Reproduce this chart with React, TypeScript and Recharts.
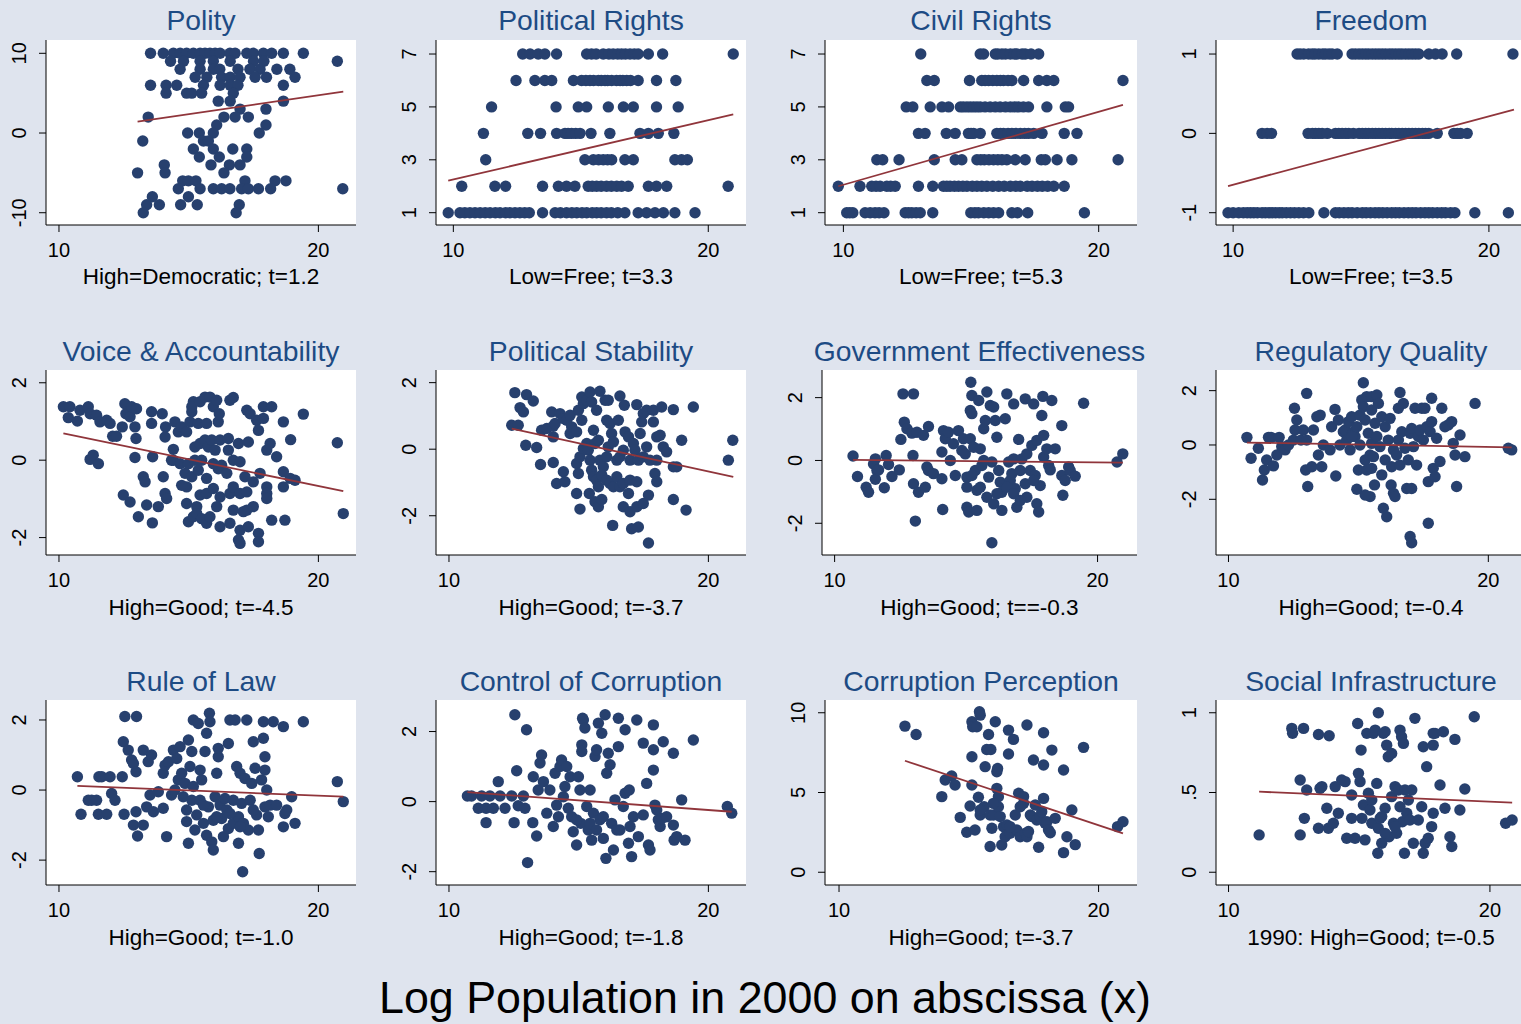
import React from 'react';
import { ScatterChart, Scatter, XAxis, YAxis } from 'recharts';

const FONT = '"Liberation Sans", Arial, Helvetica, sans-serif';
const BG = '#dfe4ee';
const DOT = '#27406e';
const FIT = '#90353b';
const TITLE = '#1d4b84';

type Pt = [number, number];
type Row = [number, number[]];

// ---------- data (x = log population in 2000, y = index value) ----------
const polityRows: Row[] = [
  [10, [13.53, 14.02, 14.41, 14.67, 14.92, 15.18, 15.44, 15.63, 15.82, 16.02, 16.21, 16.59, 16.79, 17.24, 17.49, 17.88, 18.2, 18.65, 19.42]],
  [9, [14.3, 14.8, 15.44, 15.95, 16.6, 17.5, 17.9, 20.73]],
  [8, [14.67, 15.44, 15.95, 16.2, 16.9, 17.36, 17.75, 18.4, 18.9]],
  [7, [15.25, 15.7, 16.27, 16.6, 16.98, 17.56, 18.0, 19.1]],
  [6, [13.53, 14.13, 14.54, 15.57, 16.21, 16.6, 16.9, 18.65]],
  [5, [14.13, 14.92, 15.12, 15.5, 16.72]],
  [4, [16.14, 16.6, 18.65]],
  [3, [16.98, 17.98]],
  [2, [13.44, 16.36, 16.79, 17.3]],
  [1, [16.08, 17.98]],
  [0, [14.96, 15.41, 15.95, 17.72]],
  [-1, [13.23, 15.57, 15.76]],
  [-2, [15.18, 15.95, 16.7, 17.24]],
  [-3, [15.41, 16.18, 17.24]],
  [-4, [14.06, 15.86, 16.57, 16.98]],
  [-5, [13.03, 14.09, 16.36]],
  [-6, [14.77, 14.99, 15.28, 17.17, 18.33, 18.75]],
  [-7, [14.6, 15.44, 15.95, 16.27, 16.59, 17.04, 17.3, 17.69, 18.16, 20.94]],
  [-8, [13.6, 14.99]],
  [-9, [13.38, 13.87, 14.69, 15.33, 16.95]],
  [-10, [13.25, 16.83]],
];

const polRightsRows: Row[] = [
  [7, [12.72, 13.01, 13.33, 13.59, 14.05, 15.23, 15.42, 15.6, 15.88, 16.1, 16.27, 16.45, 16.6, 16.75, 16.93, 17.1, 17.25, 17.65, 18.21, 20.98]],
  [6, [12.46, 13.2, 13.59, 13.86, 14.71, 15.03, 15.2, 15.36, 15.5, 15.69, 15.8, 15.95, 16.05, 16.21, 16.4, 16.54, 16.65, 16.8, 16.95, 17.25, 17.97, 18.73]],
  [5, [11.5, 14.03, 14.9, 15.23, 16.08, 16.67, 17.06, 17.97, 18.82]],
  [4, [11.18, 12.92, 13.42, 14.05, 14.38, 14.5, 14.64, 14.8, 14.97, 15.4, 16.14, 17.32, 17.65, 18.04, 18.65]],
  [3, [11.27, 15.16, 15.49, 15.7, 15.88, 16.05, 16.21, 16.73, 17.06, 18.69, 18.95, 19.18]],
  [2, [10.33, 11.63, 12.05, 13.5, 14.12, 14.44, 14.77, 15.29, 15.45, 15.62, 15.8, 16.01, 16.2, 16.41, 16.6, 16.86, 17.65, 17.97, 18.37, 20.78]],
  [1, [9.8, 10.26, 10.45, 10.65, 10.85, 11.05, 11.25, 11.44, 11.65, 11.83, 12.05, 12.22, 12.42, 12.61, 12.8, 12.98, 13.5, 13.99, 14.2, 14.44, 14.65, 14.84, 15.05, 15.23, 15.45, 15.62, 15.8, 16.01, 16.2, 16.45, 16.73, 17.25, 17.58, 17.91, 18.24, 18.69, 19.48]],
];

const civilRightsRows: Row[] = [
  [7, [13.03, 15.36, 15.49, 15.95, 16.05, 16.21, 16.35, 16.54, 16.7, 16.8, 17.0, 17.12, 17.35, 17.65]],
  [6, [13.27, 13.56, 14.94, 15.42, 15.55, 15.69, 15.85, 16.01, 16.15, 16.27, 16.45, 16.6, 17.06, 17.65, 17.97, 18.24, 20.95]],
  [5, [12.46, 12.72, 13.4, 13.86, 14.12, 14.58, 14.7, 14.84, 14.97, 15.1, 15.23, 15.36, 15.55, 15.75, 15.95, 16.14, 16.35, 16.54, 16.7, 16.86, 17.05, 17.25, 17.97, 18.69, 18.82]],
  [4, [12.94, 13.2, 14.03, 14.38, 14.9, 15.0, 15.1, 15.36, 16.01, 16.15, 16.27, 16.45, 16.6, 16.75, 16.93, 17.1, 17.25, 17.45, 17.78, 18.65, 19.15]],
  [3, [11.31, 11.54, 12.18, 13.56, 14.38, 14.64, 15.23, 15.38, 15.52, 15.7, 15.88, 16.05, 16.21, 16.4, 16.73, 17.12, 17.75, 17.91, 18.37, 18.95, 20.76]],
  [2, [9.8, 10.65, 11.11, 11.28, 11.44, 11.7, 11.85, 12.03, 12.94, 13.5, 13.92, 14.05, 14.18, 14.35, 14.51, 14.68, 14.84, 15.05, 15.23, 15.42, 15.62, 15.85, 16.08, 16.3, 16.54, 16.75, 16.93, 17.2, 17.39, 17.6, 17.79, 18.0, 18.24, 18.65]],
  [1, [10.13, 10.25, 10.37, 10.85, 11.05, 11.24, 11.4, 11.59, 12.42, 12.55, 12.68, 12.85, 13.01, 13.5, 14.99, 15.15, 15.29, 15.5, 15.69, 15.88, 16.08, 16.6, 16.82, 17.22, 19.44]],
];

const freedomRows: Row[] = [
  [1, [12.5, 12.62, 12.76, 12.95, 13.09, 13.2, 13.35, 13.5, 13.61, 13.75, 13.87, 14.07, 14.65, 14.78, 14.92, 15.05, 15.18, 15.3, 15.44, 15.57, 15.7, 15.83, 15.96, 16.1, 16.22, 16.35, 16.48, 16.6, 16.74, 16.87, 17.0, 17.13, 17.26, 17.65, 17.91, 18.17, 18.74, 20.94]],
  [0, [11.13, 11.33, 11.5, 12.93, 13.1, 13.22, 13.35, 13.48, 13.68, 14.0, 14.13, 14.26, 14.4, 14.52, 14.7, 14.92, 15.05, 15.18, 15.3, 15.44, 15.57, 15.7, 15.83, 15.96, 16.1, 16.2, 16.35, 16.48, 16.61, 16.74, 16.87, 17.0, 17.13, 17.26, 17.4, 17.52, 17.65, 17.98, 18.63, 18.76, 18.89, 19.15]],
  [-1, [9.8, 10.0, 10.22, 10.4, 10.55, 10.68, 10.81, 10.95, 11.13, 11.26, 11.4, 11.53, 11.66, 11.8, 11.92, 12.08, 12.24, 12.4, 12.57, 12.75, 12.96, 13.55, 14.0, 14.15, 14.33, 14.5, 14.65, 14.85, 15.05, 15.2, 15.37, 15.55, 15.7, 15.85, 16.02, 16.2, 16.35, 16.5, 16.68, 16.85, 17.0, 17.15, 17.33, 17.5, 17.65, 17.8, 17.98, 18.15, 18.3, 18.5, 18.67, 19.45, 20.76]],
];

const voicePts: Pt[] = [
  [10.17, 1.38], [10.42, 1.38], [10.36, 1.1], [10.71, 1.01], [10.81, 1.29], [11.13, 1.38], [11.2, 1.2], [11.45, 1.16], [11.58, 0.99], [11.84, 1.03],
  [11.97, 0.95], [12.07, 0.62], [12.22, 0.62], [12.44, 0.86], [12.54, 1.46], [12.58, 1.2], [12.74, 1.12], [12.8, 1.38], [12.99, 1.33], [12.93, 0.86],
  [12.97, 0.56], [11.2, 0.02], [11.32, 0.13], [11.52, -0.09], [12.93, 0.07], [13.57, 1.25], [13.57, 0.95], [13.61, 0.09], [13.98, 1.2], [14.11, 0.86],
  [14.09, 0.6], [14.47, 0.99], [14.41, 0.28], [14.34, 0], [14.6, 0.73], [14.73, 0.86], [14.92, 0.73], [15.05, 0.99], [15.12, 1.25], [15.18, 1.51],
  [15.12, 1.38], [15.24, 0.34], [15.37, 0.95], [15.44, 1.51], [15.63, 1.63], [15.69, 0.95], [15.82, 1.63], [15.95, 1.38], [16.08, 1.55], [16.14, 0.99],
  [16.18, 1.2], [16.59, 1.55], [16.72, 1.62], [15.44, 0.43], [15.63, 0.52], [15.76, 0.34], [15.89, 0.52], [16.02, 0.26], [16.21, 0.52], [16.53, 0.26],
  [16.53, 0.56], [16.92, 0.43], [17.3, 0.47], [17.24, 1.29], [17.37, 1.2], [17.62, 1.03], [17.69, 0.77], [17.88, 1.08], [17.88, 1.38], [18.2, 1.38],
  [18.01, 0.26], [18.14, 0.43], [18.39, 0.09], [18.65, 0.99], [18.93, 0.53], [19.42, 1.19], [20.73, 0.45], [13.25, -0.43], [13.32, -0.56], [14.02, -0.43],
  [14.41, 0], [14.67, -0.09], [14.86, -0.34], [14.92, -0.69], [14.99, -0.09], [15.12, -0.43], [15.24, 0], [15.37, -0.26], [15.5, 0], [15.69, -0.47],
  [15.95, -0.09], [16.14, -0.22], [16.27, -0.13], [16.47, -0.34], [16.72, 0], [16.98, -0.04], [17.17, -0.43], [17.49, -0.56], [17.75, -0.34], [18.01, -0.69],
  [18.01, -0.86], [18.65, -0.3], [18.91, -0.47], [18.65, -0.69], [19.1, -0.52], [12.48, -0.9], [12.74, -1.08], [13.38, -1.16], [13.83, -1.2], [14.09, -0.86],
  [14.15, -0.99], [14.73, -0.65], [14.92, -1.12], [15.31, -1.2], [15.44, -0.9], [15.69, -0.86], [15.95, -0.73], [16.21, -0.95], [16.59, -0.86], [16.72, -0.69],
  [16.98, -0.86], [17.24, -0.82], [17.49, -1.2], [17.24, -1.29], [18.01, -0.99], [14.99, -1.59], [15.18, -1.46], [15.31, -1.38], [15.5, -1.51], [15.69, -1.63],
  [15.82, -1.46], [16.08, -1.2], [16.21, -1.72], [16.59, -1.63], [16.72, -1.29], [16.98, -1.81], [17.11, -1.33], [17.3, -1.72], [16.92, -2.06], [16.98, -2.15],
  [17.69, -1.89], [17.69, -2.11], [18.2, -1.55], [18.71, -1.55], [13.06, -1.46], [13.6, -1.62], [20.96, -1.38],
];

const stabilityPts: Pt[] = [
  [12.54, 1.7], [12.99, 1.64], [13.25, 1.45], [12.74, 1.25], [12.87, 1.12], [12.42, 0.72], [12.67, 0.72], [12.96, 0.12], [13.38, 0.05], [13.53, -0.46],
  [13.57, 0.57], [13.77, 0.62], [14.02, 0.69], [13.96, 1.12], [14.09, 0.77], [14.28, 1.07], [14.41, 0.92], [14.54, 0.87], [14.67, 1.02], [14.73, 0.67],
  [14.67, 0.47], [14.92, 0.52], [14.99, 1.17], [15.12, 0.87], [15.18, 1.37], [15.12, 1.57], [15.31, 1.47], [15.44, 1.72], [15.5, 1.42], [15.69, 1.17],
  [15.82, 1.74], [16.02, 1.47], [16.14, 1.47], [16.08, 0.87], [16.21, 0.77], [16.53, 0.87], [16.59, 1.6], [16.76, 1.32], [17.24, 1.34], [17.49, 1.07],
  [17.62, 1.17], [17.88, 1.17], [18.2, 1.27], [18.65, 1.19], [19.42, 1.27], [17.43, 0.82], [17.88, 0.82], [18.01, 0.37], [18.14, 0.42], [18.26, 0.07],
  [18.39, -0.08], [18.97, 0.27], [20.94, 0.27], [20.77, -0.33], [14.02, 0.37], [14.02, -0.4], [14.41, -0.68], [14.15, -1.03], [14.47, -0.98], [14.92, -0.43],
  [14.99, -0.73], [15.05, -0.23], [15.18, 0.02], [15.31, 0.17], [15.37, -0.03], [15.44, -0.33], [15.5, -0.63], [15.57, 0.57], [15.63, 0.17], [15.76, 0.27],
  [15.82, -0.33], [15.95, -0.53], [16.08, -0.23], [16.14, 0.07], [16.27, 0.47], [16.34, 0.22], [16.47, -0.33], [16.59, -0.23], [16.72, -0.03], [16.79, 0.52],
  [16.92, 0.37], [16.98, -0.33], [17.11, 0.17], [17.17, -0.03], [17.3, -0.33], [17.37, 0.47], [17.49, -0.23], [17.62, 0.07], [17.75, -0.33], [18.01, -0.33],
  [17.94, -0.73], [18.01, -0.98], [18.65, -0.53], [18.78, -0.53], [14.92, -1.33], [15.05, -1.8], [15.41, -1.33], [15.57, -0.83], [15.69, -0.93], [15.76, -1.13],
  [15.89, -0.78], [16.08, -0.93], [16.21, -1.03], [16.34, -1.13], [16.47, -0.83], [16.59, -1.13], [16.72, -1.03], [16.92, -1.33], [16.98, -0.93], [17.24, -0.98],
  [15.63, -1.58], [15.76, -1.73], [15.89, -1.51], [16.72, -1.73], [16.98, -1.88], [17.24, -1.73], [17.49, -1.63], [17.69, -1.38], [18.65, -1.51], [19.14, -1.83],
  [16.31, -2.29], [17.04, -2.39], [17.3, -2.34], [17.69, -2.82],
];

const govEffPts: Pt[] = [
  [10.7, 0.14], [10.87, -0.51], [11.2, -0.85], [11.29, -1.01], [11.48, -0.11], [11.55, 0.05], [11.61, -0.32], [11.55, -0.6], [11.67, -0.3], [11.89, -0.87],
  [11.96, 0.16], [12.05, -0.13], [12.18, -0.51], [12.46, -0.3], [12.52, 0.67], [12.6, 2.12], [12.65, 1.22], [12.75, 1.01], [12.94, 0.87], [13.0, 2.12],
  [12.98, 0.16], [13.0, -0.74], [13.07, -1.93], [13.19, -1.01], [13.13, 0.9], [13.38, 0.8], [13.45, -0.85], [13.57, 1.08], [13.51, -0.21], [13.57, -0.32],
  [13.76, -0.42], [14.08, -0.58], [14.11, -1.56], [14.08, 0.27], [14.14, 0.95], [14.21, 0.69], [14.33, 0.9], [14.4, 0], [14.52, 0.53], [14.59, -0.48],
  [14.71, 0.95], [14.84, 0.32], [14.9, 0.69], [14.97, 0.21], [15.03, -0.85], [15.03, -1.49], [15.1, -1.64], [15.16, 0.69], [15.18, 2.49], [15.22, 2.07],
  [15.16, 1.59], [15.22, 1.49], [15.29, 0.42], [15.35, -0.32], [15.41, -0.95], [15.41, -1.59], [15.48, 1.91], [15.54, 0.37], [15.6, -0.16], [15.67, 1.01],
  [15.73, 1.27], [15.79, 2.18], [15.86, -0.53], [15.92, 1.75], [15.98, -0.05], [16.05, -1.38], [16.05, 1.7], [16.11, 1.27], [16.17, 0.74], [16.24, -0.32],
  [16.3, -0.69], [16.36, -1.01], [16.36, -1.59], [16.49, 1.33], [16.55, 2.12], [16.62, -0.05], [16.68, -0.64], [16.74, -0.42], [16.81, 1.8], [16.81, 0.05],
  [16.87, -0.9], [16.93, -1.49], [17.0, 0.67], [17.06, -0.32], [17.12, 0.05], [17.25, 1.96], [17.25, -0.74], [17.31, -1.17], [17.31, 0.21], [17.44, -0.32],
  [17.5, 0.48], [17.57, 1.8], [17.63, -0.48], [17.69, 0.64], [17.69, -1.38], [17.76, -1.64], [17.82, -0.8], [17.88, 1.43], [17.92, 2.04], [17.95, 0.11],
  [17.95, 0.8], [18.07, 0.37], [18.14, -0.16], [18.2, -0.3], [18.26, 1.91], [18.39, 0.37], [18.64, 1.11], [18.64, -0.48], [18.68, -1.11], [18.77, -0.64],
  [18.9, -0.21], [18.96, -0.32], [19.15, -0.5], [19.47, 1.82], [20.74, -0.05], [20.96, 0.21], [15.98, -2.62], [15.03, -0.53], [15.22, -0.48], [15.54, -0.85],
  [15.79, -1.17], [16.17, -1.06], [16.55, -0.85], [16.81, -1.06], [17.06, -1.27], [17.57, -0.64], [15.67, 0],
];

const regQualPts: Pt[] = [
  [10.71, 0.28], [10.87, -0.49], [11.15, -0.12], [11.31, -1.29], [11.38, -0.92], [11.47, -0.55], [11.54, 0.28], [11.64, 0.28], [11.73, -0.77], [11.86, -0.37],
  [11.95, 0.28], [12.05, -0.06], [12.18, -0.18], [12.31, 0], [12.5, 0.18], [12.54, 1.35], [12.63, 0.92], [12.56, 0.55], [12.79, 0.18], [12.88, 0.55],
  [13.01, 1.9], [13.01, 0.18], [12.97, -0.92], [13.05, -1.53], [13.21, -0.8], [13.27, 0.55], [13.4, 1.04], [13.53, 1.1], [13.46, -0.37], [13.59, -0.8],
  [13.65, 0], [13.91, -0.18], [13.97, 0.67], [14.1, 1.31], [14.13, -1.14], [14.23, 0.92], [14.29, 0], [14.42, 0.49], [14.49, 0.55], [14.55, 0.18],
  [14.62, 0.86], [14.68, -0.18], [14.74, 1.04], [14.81, 0.49], [14.87, 0.31], [14.94, -1.63], [14.94, 0.67], [15.0, -0.92], [15.06, 0], [15.06, 1.1],
  [15.13, 1.66], [15.19, 2.29], [15.19, 1.41], [15.26, 0.92], [15.26, -0.55], [15.32, 1.78], [15.32, -0.92], [15.38, 0.43], [15.45, -1.9], [15.45, -0.37],
  [15.51, 1.78], [15.51, 1.29], [15.51, 0.06], [15.58, -0.43], [15.62, -1.47], [15.64, 0.8], [15.71, 1.84], [15.71, 0.31], [15.77, 1.53], [15.83, -0.06],
  [15.9, -1.1], [15.9, 1.04], [15.96, -2.33], [16.03, 0.67], [16.03, -0.55], [16.09, -2.64], [16.15, 0.18], [16.22, 0.98], [16.26, -1.47], [16.28, -0.8],
  [16.35, -1.78], [16.35, -0.18], [16.41, -1.9], [16.47, -0.37], [16.54, 1.35], [16.54, 0.18], [16.6, 1.93], [16.6, -0.74], [16.67, 0.49], [16.73, 1.53],
  [16.79, -0.12], [16.86, -1.6], [16.92, -0.55], [16.99, 0.43], [17.05, -1.6], [17.05, 0.61], [17.12, -0.06], [17.18, 1.35], [17.24, -0.74], [17.31, 0.31],
  [17.37, 0.55], [17.44, 1.35], [17.5, 0.18], [17.56, 1.35], [17.63, 0.67], [17.69, -1.35], [17.69, -2.88], [17.76, 0.49], [17.82, 1.72], [17.82, 0.86],
  [17.88, -0.86], [17.95, -1.17], [18.01, 0.25], [18.14, -0.61], [18.21, 1.35], [18.33, 0.67], [18.46, 0.74], [18.59, 0.86], [18.65, 0.06], [18.72, -0.37],
  [18.78, -1.53], [18.91, 0.37], [19.1, -0.43], [19.49, 1.53], [16.99, -3.37], [17.05, -3.6], [20.77, -0.12], [20.9, -0.18], [15.26, -1.84], [14.74, 0.31],
  [15.51, -0.86],
];

const ruleLawPts: Pt[] = [
  [10.71, 0.38], [10.85, -0.69], [11.13, -0.29], [11.26, -0.29], [11.45, -0.29], [11.52, -0.69], [11.54, 0.38], [11.65, 0.38], [11.84, -0.69], [11.97, 0.38],
  [12.03, -0.1], [12.16, -0.29], [12.44, 0.38], [12.51, -0.69], [12.54, 2.1], [12.99, 2.1], [12.48, 1.38], [12.67, 1.14], [12.8, 0.86], [12.87, 0.76],
  [12.97, 0.52], [12.97, -0.62], [12.87, -1.0], [13.03, -1.31], [13.25, -1.0], [13.25, 1.14], [13.38, -0.48], [13.44, 0.81], [13.57, 1.0], [13.64, -0.62],
  [13.51, -0.14], [13.83, -0.05], [14.02, -0.52], [14.02, 0.48], [14.09, 0.71], [14.15, -1.33], [14.22, 0.81], [14.34, -0.14], [14.41, 1.14], [14.47, 0],
  [14.54, 0.9], [14.6, 0.29], [14.67, 1.24], [14.73, 0.48], [14.79, -0.19], [14.86, 0.19], [14.92, -0.57], [14.99, 1.43], [14.99, -1.52], [15.05, 0.67],
  [15.12, 1.1], [15.12, -0.29], [15.18, 0.1], [15.18, 2.0], [15.24, -1.14], [15.31, -0.71], [15.37, 1.9], [15.44, 0.57], [15.44, -0.29], [15.5, 0.29],
  [15.57, -0.95], [15.63, 1.1], [15.69, -1.29], [15.69, 1.62], [15.76, -0.48], [15.8, 2.19], [15.82, 1.95], [15.89, -1.48], [15.95, -0.86], [15.95, -1.71],
  [16.02, -0.19], [16.08, 0.48], [16.14, 0.95], [16.14, 1.19], [16.21, -0.43], [16.27, -0.81], [16.34, -1.33], [16.4, -0.24], [16.47, -0.57], [16.53, 1.33],
  [16.53, -1.1], [16.59, 2.0], [16.72, -0.29], [16.72, -0.95], [16.79, 2.0], [16.85, 0.67], [16.92, -1.52], [16.92, -0.76], [16.98, 0.48], [17.04, -0.38],
  [17.11, -0.95], [17.17, 0.33], [17.24, 2.0], [17.3, -1.14], [17.37, -0.29], [17.43, 0.19], [17.49, 1.38], [17.56, 0.62], [17.62, -0.71], [17.69, -1.14],
  [17.72, -1.81], [17.81, 0.29], [17.88, 1.48], [17.94, 0.57], [17.94, 0.95], [18.01, 0], [17.94, -0.48], [18.07, -0.76], [18.14, -0.43], [18.39, -0.43],
  [18.71, -0.67], [18.78, -0.57], [18.65, -1.05], [18.97, -0.19], [19.1, -0.95], [18.65, 1.81], [17.88, 1.95], [18.26, 1.95], [19.42, 1.95], [17.08, -2.33],
  [20.73, 0.24], [20.96, -0.33], [14.92, -0.9], [15.57, -0.43], [16.08, -0.76], [16.59, -0.67], [16.98, -1.05], [17.49, -0.57],
];

const corruptionPts: Pt[] = [
  [10.71, 0.16], [10.87, 0.16], [11.13, -0.19], [11.26, 0.16], [11.43, -0.19], [11.43, -0.6], [11.58, 0.16], [11.71, -0.19], [11.9, 0.57], [11.97, 0.16],
  [12.16, -0.19], [12.42, 0.16], [12.51, -0.6], [12.54, 2.48], [12.61, 0.88], [12.67, -0.12], [12.87, 0.16], [12.93, -0.19], [12.99, 2.05], [13.03, -1.74],
  [13.23, -0.6], [13.25, 0.71], [13.38, -0.98], [13.44, 0.33], [13.51, 1.1], [13.57, 1.33], [13.64, 0.57], [13.77, -0.33], [13.89, 0.33], [14.02, -0.71],
  [14.09, 0.81], [14.15, -0.1], [14.22, -0.43], [14.28, 1.0], [14.34, 1.19], [14.41, 0.14], [14.47, 0.43], [14.54, 1.0], [14.6, -0.19], [14.67, 0.71],
  [14.73, -0.43], [14.79, -0.86], [14.92, -1.24], [14.99, 0.71], [15.05, 0.33], [15.08, -0.62], [15.12, 1.62], [15.12, 1.43], [15.15, 2.38], [15.18, 2.33],
  [15.24, 2.1], [15.31, -0.14], [15.37, -0.81], [15.44, 0.33], [15.5, -1.1], [15.57, -0.33], [15.63, 1.29], [15.69, 1.48], [15.76, 2.24], [15.82, -0.52],
  [15.89, 1.95], [15.95, -1.05], [16.02, 2.48], [16.05, -1.62], [16.08, 0.81], [16.14, 1.38], [16.21, 1.05], [16.27, -0.62], [16.34, -1.38], [16.4, 0.05],
  [16.53, 1.57], [16.53, 2.38], [16.59, -0.81], [16.72, -0.14], [16.79, 2.05], [16.79, 0.24], [16.92, -1.19], [16.95, 0.33], [17.04, -1.57], [17.11, -0.43],
  [17.24, 2.33], [17.3, -1.0], [17.49, 1.67], [17.49, -0.38], [17.62, 0.52], [17.69, -1.24], [17.75, -1.38], [17.88, 0.9], [17.88, 1.48], [17.88, 2.19],
  [17.94, -0.1], [18.01, -0.24], [18.07, -0.52], [18.14, -0.71], [18.2, -0.48], [18.26, 1.71], [18.39, -0.43], [18.65, 1.38], [18.65, -0.67], [18.68, -1.1],
  [18.78, -1.0], [18.97, 0.05], [19.1, -1.1], [19.42, 1.76], [20.73, -0.14], [20.9, -0.33], [14.92, -0.52], [15.44, -0.62], [15.95, -0.43], [16.47, -0.81],
  [16.98, -0.71], [15.69, -0.81],
];

const cpiPts: Pt[] = [
  [12.54, 9.16], [12.97, 8.64], [13.96, 4.74], [14.09, 5.78], [14.34, 6.03], [14.47, 5.47], [14.67, 3.44], [14.92, 2.51], [15.05, 4.15], [15.12, 9.44],
  [15.15, 9.12], [15.12, 7.24], [15.12, 5.47], [15.24, 2.65], [15.31, 9.12], [15.37, 4.7], [15.41, 10.06], [15.44, 9.85], [15.44, 3.59], [15.59, 4.11],
  [15.63, 6.62], [15.69, 7.7], [15.76, 8.64], [15.82, 1.61], [15.85, 7.7], [15.82, 3.59], [15.89, 2.76], [15.95, 3.59], [16.02, 9.44], [16.08, 5.26],
  [16.08, 6.3], [16.11, 6.51], [16.14, 4.74], [16.14, 4.11], [16.21, 3.49], [16.27, 1.71], [16.34, 2.86], [16.4, 2.23], [16.47, 2.96], [16.53, 7.41],
  [16.53, 8.91], [16.59, 2.44], [16.72, 8.33], [16.79, 3.59], [16.85, 2.65], [16.92, 4.95], [16.98, 2.23], [17.11, 4.32], [17.11, 4.74], [17.17, 2.44],
  [17.24, 2.23], [17.24, 9.23], [17.3, 2.55], [17.37, 3.59], [17.43, 3.49], [17.49, 7.04], [17.56, 4.22], [17.62, 3.28], [17.69, 1.57], [17.75, 3.49],
  [17.81, 3.8], [17.88, 8.75], [17.88, 6.72], [17.88, 4.63], [17.94, 3.07], [18.01, 3.17], [18.07, 2.65], [18.14, 2.48], [18.2, 7.66], [18.33, 3.38],
  [18.65, 6.41], [18.65, 1.23], [18.78, 2.23], [18.97, 3.9], [19.1, 1.73], [19.42, 7.83], [20.73, 2.86], [20.94, 3.17], [15.95, 4.32], [16.59, 2.86],
  [16.98, 4.11], [15.44, 3.9],
];

const socialInfraPts: Pt[] = [
  [11.17, 0.234], [12.42, 0.902], [12.45, 0.871], [12.87, 0.902], [13.44, 0.864], [13.85, 0.856], [12.74, 0.578], [12.9, 0.338], [12.99, 0.516], [12.74, 0.234],
  [13.44, 0.276], [13.5, 0.526], [13.57, 0.537], [13.76, 0.401], [13.82, 0.276], [14.01, 0.307], [14.08, 0.537], [14.2, 0.37], [14.33, 0.578], [14.46, 0.568],
  [14.52, 0.213], [14.71, 0.484], [14.71, 0.338], [14.84, 0.213], [14.94, 0.933], [14.97, 0.62], [15.03, 0.568], [15.07, 0.766], [15.1, 0.338], [15.16, 0.422],
  [15.22, 0.203], [15.29, 0.871], [15.35, 0.495], [15.41, 0.39], [15.48, 0.307], [15.54, 0.871], [15.61, 0.891], [15.67, 0.557], [15.73, 0.276], [15.71, 0.119],
  [15.73, 1.0], [15.8, 0.338], [15.86, 0.182], [15.92, 0.871], [15.99, 0.881], [15.99, 0.401], [16.05, 0.797], [16.11, 0.724], [16.14, 0.223], [16.24, 0.745],
  [16.24, 0.474], [16.31, 0.307], [16.37, 0.537], [16.43, 0.244], [16.5, 0.516], [16.56, 0.891], [16.56, 0.411], [16.62, 0.85], [16.65, 0.317], [16.69, 0.808],
  [16.73, 0.119], [16.75, 0.516], [16.82, 0.37], [16.88, 0.453], [16.94, 0.328], [17.01, 0.516], [17.07, 0.182], [17.13, 0.965], [17.26, 0.328], [17.39, 0.411],
  [17.45, 0.787], [17.45, 0.119], [17.52, 0.182], [17.58, 0.662], [17.64, 0.213], [17.77, 0.286], [17.83, 0.797], [17.83, 0.37], [17.83, 0.871], [17.9, 0.871],
  [18.09, 0.547], [18.22, 0.881], [18.28, 0.401], [18.47, 0.223], [18.54, 0.161], [18.66, 0.833], [18.85, 0.39], [19.04, 0.522], [19.4, 0.975], [20.6, 0.307],
  [20.85, 0.328], [15.86, 0.349], [16.37, 0.286], [15.48, 0.453], [15.99, 0.244],
];

// fitted-line end points
const polityFit: Pt[] = [[13.03, 1.42], [20.96, 5.19]];
const polRightsFit: Pt[] = [[9.8, 2.21], [20.98, 4.72]];
const civilRightsFit: Pt[] = [[9.8, 2.0], [20.95, 5.08]];
const freedomFit: Pt[] = [[9.8, -0.664], [20.98, 0.3]];
const voiceFit: Pt[] = [[10.17, 0.69], [20.96, -0.8]];
const stabilityFit: Pt[] = [[12.42, 0.62], [20.96, -0.83]];
const govEffFit: Pt[] = [[10.7, 0.02], [20.96, -0.07]];
const regQualFit: Pt[] = [[10.71, 0.09], [20.9, -0.09]];
const ruleLawFit: Pt[] = [[10.71, 0.12], [20.96, -0.19]];
const corruptionFit: Pt[] = [[10.71, 0.27], [20.9, -0.29]];
const cpiFit: Pt[] = [[12.54, 6.99], [20.94, 2.44]];
const socialInfraFit: Pt[] = [[11.17, 0.505], [20.85, 0.436]];

const titles = [
  'Polity', 'Political Rights', 'Civil Rights', 'Freedom',
  'Voice & Accountability', 'Political Stability', 'Government Effectiveness', 'Regulatory Quality',
  'Rule of Law', 'Control of Corruption', 'Corruption Perception', 'Social Infrastructure',
];
const subtitles = [
  'High=Democratic; t=1.2', 'Low=Free; t=3.3', 'Low=Free; t=5.3', 'Low=Free; t=3.5',
  'High=Good; t=-4.5', 'High=Good; t=-3.7', 'High=Good; t==-0.3', 'High=Good; t=-0.4',
  'High=Good; t=-1.0', 'High=Good; t=-1.8', 'High=Good; t=-3.7', '1990: High=Good; t=-0.5',
];
const xTicks = [10, 20];
const yTickSets: number[][] = [
  [-10, 0, 10], [1, 3, 5, 7], [1, 3, 5, 7], [-1, 0, 1],
  [-2, 0, 2], [-2, 0, 2], [-2, 0, 2], [-2, 0, 2],
  [-2, 0, 2], [-2, 0, 2], [0, 5, 10], [0, 0.5, 1],
];
const yTickLabelSets: string[][] = [
  ['-10', '0', '10'], ['1', '3', '5', '7'], ['1', '3', '5', '7'], ['-1', '0', '1'],
  ['-2', '0', '2'], ['-2', '0', '2'], ['-2', '0', '2'], ['-2', '0', '2'],
  ['-2', '0', '2'], ['-2', '0', '2'], ['0', '5', '10'], ['0', '.5', '1'],
];
const caption = 'Log Population in 2000 on abscissa (x)';

const rowsToPts = (r: Row[]): Pt[] => r.flatMap(([y, xs]) => xs.map((x) => [x, y] as Pt));

const seriesPts: Pt[][] = [
  rowsToPts(polityRows), rowsToPts(polRightsRows), rowsToPts(civilRightsRows), rowsToPts(freedomRows),
  voicePts, stabilityPts, govEffPts, regQualPts,
  ruleLawPts, corruptionPts, cpiPts, socialInfraPts,
];
const seriesFits: Pt[][] = [
  polityFit, polRightsFit, civilRightsFit, freedomFit,
  voiceFit, stabilityFit, govEffFit, regQualFit,
  ruleLawFit, corruptionFit, cpiFit, socialInfraFit,
];

// ---------- layout (pixel boxes of each plot region and their axis ranges) ----------
const boxes: [number, number, number, number][] = [
  [46, 40, 356, 225], [436, 40, 746, 225], [825, 40, 1137, 225], [1216, 40, 1526, 225],
  [46, 370, 356, 555], [436, 370, 746, 555], [822, 370, 1137, 555], [1216, 370, 1526, 555],
  [46, 700, 356, 885], [436, 700, 746, 885], [825, 700, 1137, 885], [1216, 700, 1526, 885],
];
const xDomains: [number, number][] = [
  [9.5, 21.45], [9.32, 21.48], [9.28, 21.5], [9.33, 21.45],
  [9.5, 21.45], [9.5, 21.45], [9.52, 21.5], [9.52, 21.45],
  [9.5, 21.45], [9.5, 21.45], [9.46, 21.48], [9.52, 21.38],
];
const yDomains: [number, number][] = [
  [-11.54, 11.67], [0.535, 7.53], [0.535, 7.53], [-1.155, 1.177],
  [-2.45, 2.33], [-3.18, 2.38], [-3.01, 2.88], [-4.05, 2.76],
  [-2.71, 2.57], [-2.38, 2.9], [-0.8, 10.8], [-0.08, 1.08],
];
const titleBaselines = [30, 361, 691];
const subBaselines = [284, 615, 945];

const Dot = (props: any) => {
  if (props.cx == null || props.cy == null) return <g />;
  return <circle cx={props.cx} cy={props.cy} r={5.7} fill={DOT} />;
};
const NoDot = () => <g />;

const makeYTick = (ticks: number[], labels: string[]) => (props: any) => {
  const { x, y, payload } = props;
  const i = ticks.indexOf(payload.value);
  const label = i >= 0 ? labels[i] : String(payload.value);
  return (
    <text x={x} y={y} transform={`rotate(-90 ${x} ${y})`} textAnchor="middle" fontSize={20} fill="#000" fontFamily={FONT}>
      {label}
    </text>
  );
};

const AXW = 50;

function Panel({ i }: { i: number }) {
  const [l, t, r, b] = boxes[i];
  const w = r - l;
  const h = b - t;
  const data = seriesPts[i].map(([x, y]) => ({ x, y }));
  const fit = seriesFits[i].map(([x, y]) => ({ x, y }));
  return (
    <>
      <div style={{ position: 'absolute', left: l, top: t, width: w, height: h, background: '#fff' }} />
      <div style={{ position: 'absolute', left: l - AXW, top: t - 5 }}>
        <ScatterChart width={w + AXW + 5} height={h + 45} margin={{ top: 5, right: 5, bottom: 0, left: 0 }}>
          <XAxis
            type="number"
            dataKey="x"
            domain={xDomains[i]}
            ticks={xTicks}
            allowDataOverflow
            interval={0}
            height={40}
            tickSize={7}
            tickMargin={11}
            axisLine={{ stroke: '#000', strokeWidth: 1 }}
            tickLine={{ stroke: '#000', strokeWidth: 1 }}
            tick={{ fill: '#000', fontSize: 20, fontFamily: FONT }}
          />
          <YAxis
            type="number"
            dataKey="y"
            domain={yDomains[i]}
            ticks={yTickSets[i]}
            allowDataOverflow
            interval={0}
            width={AXW}
            tickSize={7}
            tickMargin={13}
            axisLine={{ stroke: '#000', strokeWidth: 1 }}
            tickLine={{ stroke: '#000', strokeWidth: 1 }}
            tick={makeYTick(yTickSets[i], yTickLabelSets[i])}
          />
          <Scatter data={data} fill={DOT} shape={Dot} isAnimationActive={false} />
          <Scatter data={fit} fill={FIT} shape={NoDot} line={{ stroke: FIT, strokeWidth: 1.8 }} isAnimationActive={false} />
        </ScatterChart>
      </div>
    </>
  );
}

export default function App() {
  return (
    <div
      style={{
        position: 'fixed',
        left: 0,
        top: 0,
        width: 1521,
        height: 1024,
        background: BG,
        overflow: 'hidden',
        fontFamily: FONT,
      }}
    >
      {titles.map((_, i) => (
        <Panel key={i} i={i} />
      ))}
      <svg width={1521} height={1024} style={{ position: 'absolute', left: 0, top: 0, pointerEvents: 'none' }}>
        {titles.map((tt, i) => {
          const [l, , r] = boxes[i];
          const cx = (l + Math.min(r, 1526)) / 2;
          const row = Math.floor(i / 4);
          return (
            <g key={i}>
              <text x={cx} y={titleBaselines[row]} textAnchor="middle" fontSize={28.3} fill={TITLE} fontFamily={FONT}>
                {tt}
              </text>
              <text x={cx} y={subBaselines[row]} textAnchor="middle" fontSize={22.5} fill="#000" fontFamily={FONT}>
                {subtitles[i]}
              </text>
            </g>
          );
        })}
        <text x={765} y={1013} textAnchor="middle" fontSize={44.8} fill="#000" fontFamily={FONT}>
          {caption}
        </text>
      </svg>
    </div>
  );
}
